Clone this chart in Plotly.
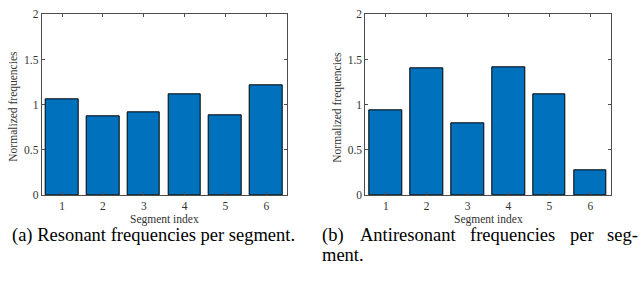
import plotly.graph_objects as go

segments = [1, 2, 3, 4, 5, 6]
resonant = [1.06, 0.87, 0.92, 1.12, 0.88, 1.21]
antiresonant = [0.94, 1.40, 0.79, 1.41, 1.11, 0.28]
y_ticks = [0, 0.5, 1, 1.5, 2]
y_tick_labels = ["0", "0.5", "1", "1.5", "2"]
x_title = "Segment index"
y_title = "Normalized frequencies"
caption_a = "(a) Resonant frequencies per segment."
caption_b_words = ["(b)", "Antiresonant", "frequencies", "per", "seg-"]
caption_b_tail = "ment."

W, H = 641, 292
FONT = "Liberation Serif"
AX = "#4d4d4d"
TXT = "#333333"

fig = go.Figure()
for vals, xa, ya in [(resonant, "x", "y"), (antiresonant, "x2", "y2")]:
    fig.add_trace(go.Bar(x=segments, y=vals, xaxis=xa, yaxis=ya, width=0.8,
                         marker=dict(color="#0072BD", line=dict(color="black", width=1)),
                         showlegend=False))

def px(x):
    return x / W

def py(y):
    return 1 - y / H

ydom = [py(197.3), py(8.7)]
xdom1 = [px(41.7), px(286.7)]
xdom2 = [px(365.3), px(610.7)]

common_x = dict(range=[0.5, 6.5], tickvals=segments, ticks="inside", ticklen=3,
                tickcolor=AX, showline=True, linecolor=AX, linewidth=1, mirror="ticks",
                showgrid=False, zeroline=False, tickfont=dict(family=FONT, size=11.5, color=TXT))
common_y = dict(range=[0, 2], tickvals=y_ticks, ticktext=y_tick_labels, ticks="inside", ticklen=3,
                tickcolor=AX, showline=True, linecolor=AX, linewidth=1, mirror="ticks",
                showgrid=False, zeroline=False, tickfont=dict(family=FONT, size=11.5, color=TXT))

annotations = []
for xd, ytx in [(xdom1, 14), (xdom2, 338)]:
    annotations.append(dict(text=x_title, x=(xd[0] + xd[1]) / 2, y=py(223), xref="paper", yref="paper",
                            showarrow=False, xanchor="center", yanchor="middle",
                            font=dict(family=FONT, size=11.5, color=TXT)))
    annotations.append(dict(text=y_title, x=px(ytx), y=py(105), xref="paper", yref="paper",
                            showarrow=False, xanchor="center", yanchor="middle", textangle=-90,
                            font=dict(family=FONT, size=11.5, color=TXT)))

cap_font = dict(family=FONT, size=18.5, color="black")
annotations.append(dict(text=caption_a, x=px(10), y=py(239), xref="paper", yref="paper",
                        showarrow=False, xanchor="left", yanchor="middle", font=cap_font))
word_x = [320, 358, 468, 568]
for w, wx in zip(caption_b_words[:-1], word_x):
    annotations.append(dict(text=w, x=px(wx), y=py(239), xref="paper", yref="paper",
                            showarrow=False, xanchor="left", yanchor="middle", font=cap_font))
annotations.append(dict(text=caption_b_words[-1], x=px(640), y=py(239), xref="paper", yref="paper",
                        showarrow=False, xanchor="right", yanchor="middle", font=cap_font))
annotations.append(dict(text=caption_b_tail, x=px(320), y=py(260), xref="paper", yref="paper",
                        showarrow=False, xanchor="left", yanchor="middle", font=cap_font))

fig.update_layout(
    width=W, height=H, margin=dict(l=0, r=0, t=0, b=0),
    paper_bgcolor="white", plot_bgcolor="white",
    xaxis=dict(domain=xdom1, anchor="y", **common_x),
    yaxis=dict(domain=ydom, anchor="x", **common_y),
    xaxis2=dict(domain=xdom2, anchor="y2", **common_x),
    yaxis2=dict(domain=ydom, anchor="x2", **common_y),
    annotations=annotations, bargap=0,
)
fig.write_html("out.html", config={"displayModeBar": False},
               post_script="document.body.style.margin='0';")
